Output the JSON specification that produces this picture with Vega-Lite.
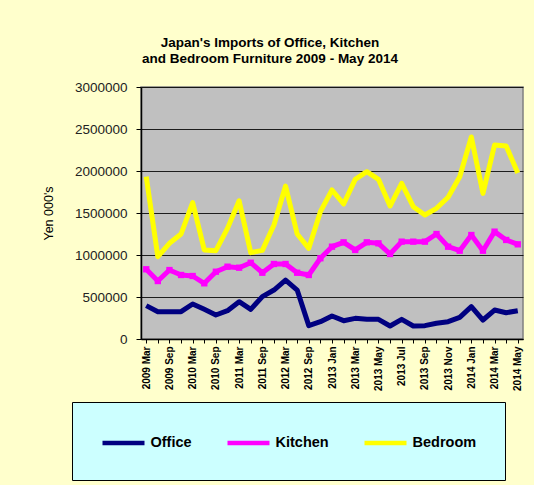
{
  "$schema": "https://vega.github.io/schema/vega-lite/v6.json",
  "width": 382,
  "height": 252,
  "autosize": "none",
  "padding": {"left": 141, "top": 87, "right": 11, "bottom": 146},
  "background": "#FFFFCC",
  "title": {
    "text": ["Japan's Imports of Office, Kitchen", "and Bedroom Furniture 2009 - May 2014"],
    "font": "Liberation Sans",
    "fontSize": 13.5,
    "fontWeight": "bold",
    "color": "#000000",
    "anchor": "middle",
    "dx": -62,
    "offset": 15,
    "lineHeight": 16
  },
  "config": {
    "view": {"fill": "#C0C0C0", "stroke": "#808080", "strokeWidth": 1.5},
    "font": "Liberation Sans"
  },
  "datasets": {
    "imports": [
      {"period": "2009 Mar", "series": "Office", "value": 397000},
      {"period": "2009 Jun", "series": "Office", "value": 325000},
      {"period": "2009 Sep", "series": "Office", "value": 325000},
      {"period": "2009 Dec", "series": "Office", "value": 325000},
      {"period": "2010 Mar", "series": "Office", "value": 417000},
      {"period": "2010 Jun", "series": "Office", "value": 353000},
      {"period": "2010 Sep", "series": "Office", "value": 286000},
      {"period": "2010 Dec", "series": "Office", "value": 337000},
      {"period": "2011 Mar", "series": "Office", "value": 444000},
      {"period": "2011 Jun", "series": "Office", "value": 353000},
      {"period": "2011 Sep", "series": "Office", "value": 505000},
      {"period": "2011 Dec", "series": "Office", "value": 583000},
      {"period": "2012 Mar", "series": "Office", "value": 702000},
      {"period": "2012 Jun", "series": "Office", "value": 583000},
      {"period": "2012 Sep", "series": "Office", "value": 159000},
      {"period": "2012 Nov", "series": "Office", "value": 206000},
      {"period": "2013 Jan", "series": "Office", "value": 274000},
      {"period": "2013 Feb", "series": "Office", "value": 218000},
      {"period": "2013 Mar", "series": "Office", "value": 246000},
      {"period": "2013 Apr", "series": "Office", "value": 234000},
      {"period": "2013 May", "series": "Office", "value": 234000},
      {"period": "2013 Jun", "series": "Office", "value": 155000},
      {"period": "2013 Jul", "series": "Office", "value": 234000},
      {"period": "2013 Aug", "series": "Office", "value": 155000},
      {"period": "2013 Sep", "series": "Office", "value": 159000},
      {"period": "2013 Oct", "series": "Office", "value": 187000},
      {"period": "2013 Nov", "series": "Office", "value": 206000},
      {"period": "2013 Dec", "series": "Office", "value": 258000},
      {"period": "2014 Jan", "series": "Office", "value": 385000},
      {"period": "2014 Feb", "series": "Office", "value": 226000},
      {"period": "2014 Mar", "series": "Office", "value": 345000},
      {"period": "2014 Apr", "series": "Office", "value": 313000},
      {"period": "2014 May", "series": "Office", "value": 337000},

      {"period": "2009 Mar", "series": "Kitchen", "value": 830000},
      {"period": "2009 Jun", "series": "Kitchen", "value": 690000},
      {"period": "2009 Sep", "series": "Kitchen", "value": 821000},
      {"period": "2009 Dec", "series": "Kitchen", "value": 762000},
      {"period": "2010 Mar", "series": "Kitchen", "value": 750000},
      {"period": "2010 Jun", "series": "Kitchen", "value": 663000},
      {"period": "2010 Sep", "series": "Kitchen", "value": 801000},
      {"period": "2010 Dec", "series": "Kitchen", "value": 861000},
      {"period": "2011 Mar", "series": "Kitchen", "value": 849000},
      {"period": "2011 Jun", "series": "Kitchen", "value": 908000},
      {"period": "2011 Sep", "series": "Kitchen", "value": 789000},
      {"period": "2011 Dec", "series": "Kitchen", "value": 893000},
      {"period": "2012 Mar", "series": "Kitchen", "value": 893000},
      {"period": "2012 Jun", "series": "Kitchen", "value": 789000},
      {"period": "2012 Sep", "series": "Kitchen", "value": 762000},
      {"period": "2012 Nov", "series": "Kitchen", "value": 961000},
      {"period": "2013 Jan", "series": "Kitchen", "value": 1099000},
      {"period": "2013 Feb", "series": "Kitchen", "value": 1151000},
      {"period": "2013 Mar", "series": "Kitchen", "value": 1060000},
      {"period": "2013 Apr", "series": "Kitchen", "value": 1151000},
      {"period": "2013 May", "series": "Kitchen", "value": 1139000},
      {"period": "2013 Jun", "series": "Kitchen", "value": 1012000},
      {"period": "2013 Jul", "series": "Kitchen", "value": 1159000},
      {"period": "2013 Aug", "series": "Kitchen", "value": 1159000},
      {"period": "2013 Sep", "series": "Kitchen", "value": 1159000},
      {"period": "2013 Oct", "series": "Kitchen", "value": 1250000},
      {"period": "2013 Nov", "series": "Kitchen", "value": 1099000},
      {"period": "2013 Dec", "series": "Kitchen", "value": 1051000},
      {"period": "2014 Jan", "series": "Kitchen", "value": 1238000},
      {"period": "2014 Feb", "series": "Kitchen", "value": 1051000},
      {"period": "2014 Mar", "series": "Kitchen", "value": 1278000},
      {"period": "2014 Apr", "series": "Kitchen", "value": 1179000},
      {"period": "2014 May", "series": "Kitchen", "value": 1127000},

      {"period": "2009 Mar", "series": "Bedroom", "value": 1932000},
      {"period": "2009 Jun", "series": "Bedroom", "value": 980000},
      {"period": "2009 Sep", "series": "Bedroom", "value": 1139000},
      {"period": "2009 Dec", "series": "Bedroom", "value": 1250000},
      {"period": "2010 Mar", "series": "Bedroom", "value": 1623000},
      {"period": "2010 Jun", "series": "Bedroom", "value": 1060000},
      {"period": "2010 Sep", "series": "Bedroom", "value": 1051000},
      {"period": "2010 Dec", "series": "Bedroom", "value": 1317000},
      {"period": "2011 Mar", "series": "Bedroom", "value": 1645000},
      {"period": "2011 Jun", "series": "Bedroom", "value": 1028000},
      {"period": "2011 Sep", "series": "Bedroom", "value": 1055000},
      {"period": "2011 Dec", "series": "Bedroom", "value": 1357000},
      {"period": "2012 Mar", "series": "Bedroom", "value": 1821000},
      {"period": "2012 Jun", "series": "Bedroom", "value": 1250000},
      {"period": "2012 Sep", "series": "Bedroom", "value": 1079000},
      {"period": "2012 Nov", "series": "Bedroom", "value": 1516000},
      {"period": "2013 Jan", "series": "Bedroom", "value": 1774000},
      {"period": "2013 Feb", "series": "Bedroom", "value": 1607000},
      {"period": "2013 Mar", "series": "Bedroom", "value": 1901000},
      {"period": "2013 Apr", "series": "Bedroom", "value": 1992000},
      {"period": "2013 May", "series": "Bedroom", "value": 1901000},
      {"period": "2013 Jun", "series": "Bedroom", "value": 1583000},
      {"period": "2013 Jul", "series": "Bedroom", "value": 1853000},
      {"period": "2013 Aug", "series": "Bedroom", "value": 1575000},
      {"period": "2013 Sep", "series": "Bedroom", "value": 1476000},
      {"period": "2013 Oct", "series": "Bedroom", "value": 1556000},
      {"period": "2013 Nov", "series": "Bedroom", "value": 1687000},
      {"period": "2013 Dec", "series": "Bedroom", "value": 1932000},
      {"period": "2014 Jan", "series": "Bedroom", "value": 2405000},
      {"period": "2014 Feb", "series": "Bedroom", "value": 1734000},
      {"period": "2014 Mar", "series": "Bedroom", "value": 2310000},
      {"period": "2014 Apr", "series": "Bedroom", "value": 2298000},
      {"period": "2014 May", "series": "Bedroom", "value": 1975000}
    ]
  },
  "data": {"name": "imports"},
  "encoding": {
    "x": {
      "field": "period",
      "type": "ordinal",
      "sort": null,
      "scale": {"type": "point", "padding": 0.45},
      "axis": {
        "title": null,
        "labelAngle": -90,
        "labelAlign": "right",
        "labelBaseline": "middle",
        "labelFont": "Liberation Sans",
        "labelFontSize": 10,
        "labelFontWeight": "bold",
        "labelColor": "#000000",
        "labelPadding": 3,
        "labelExpr": "round(datum.index * 32) % 2 == 0 ? datum.label : ''",
        "labelOverlap": false,
        "tickColor": "#000000",
        "tickSize": 4,
        "domainColor": "#000000",
        "domainWidth": 1.5,
        "grid": false
      }
    },
    "y": {
      "field": "value",
      "type": "quantitative",
      "scale": {"domain": [0, 3000000], "nice": false},
      "axis": {
        "title": "Yen 000's",
        "titleFont": "Liberation Sans",
        "titleFontSize": 12.5,
        "titleFontWeight": "normal",
        "titleColor": "#000000",
        "titlePadding": 19,
        "values": [0, 500000, 1000000, 1500000, 2000000, 2500000, 3000000],
        "format": "d",
        "labelFont": "Liberation Sans",
        "labelFontSize": 13.5,
        "labelColor": "#222222",
        "labelPadding": 9,
        "tickColor": "#000000",
        "tickSize": 5,
        "domainColor": "#000000",
        "domainWidth": 1.5,
        "grid": true,
        "gridColor": "#000000",
        "gridWidth": 1,
        "gridOpacity": 0.85
      }
    }
  },
  "layer": [
    {
      "mark": {"type": "line", "strokeWidth": 5, "strokeJoin": "round"},
      "encoding": {
        "color": {
          "field": "series",
          "type": "nominal",
          "scale": {"domain": ["Office", "Kitchen", "Bedroom"], "range": ["#000080", "#FF00FF", "#FFFF00"]},
          "legend": {
            "title": null,
            "orient": "none",
            "direction": "horizontal",
            "legendX": -69,
            "legendY": 315,
            "padding": 28,
            "fillColor": "#CCFFFF",
            "strokeColor": "#000000",
            "symbolType": "M-2,0H2",
            "symbolSize": 441,
            "symbolOffset": 10.5,
            "symbolStrokeWidth": 4.5,
            "symbolOpacity": 1,
            "labelFont": "Liberation Sans",
            "labelFontSize": 14.5,
            "labelFontWeight": "bold",
            "labelColor": "#000000",
            "labelOffset": 14,
            "columnPadding": 26
          }
        }
      }
    },
    {
      "transform": [{"filter": "datum.series == 'Kitchen'"}],
      "mark": {"type": "point", "shape": "square", "filled": true, "opacity": 1, "size": 40, "color": "#FF00FF"}
    }
  ]
}
